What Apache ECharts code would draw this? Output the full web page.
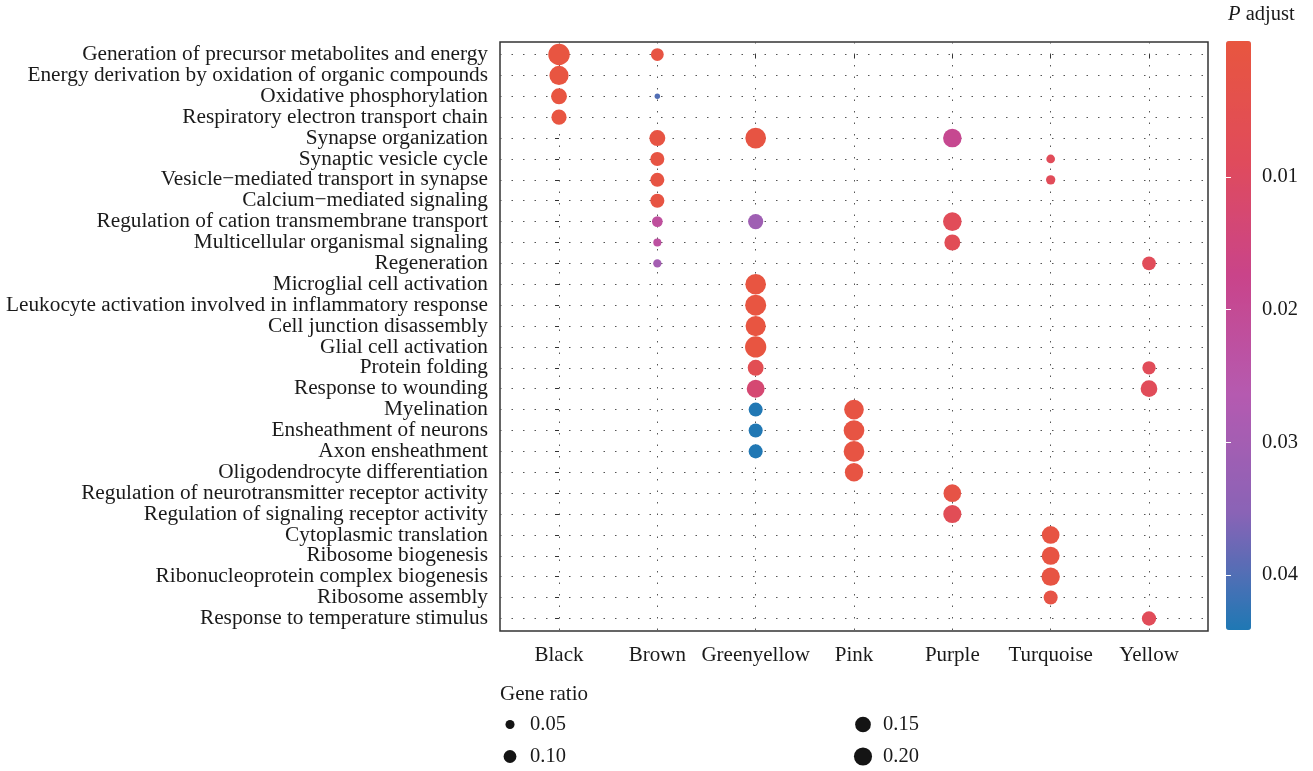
<!DOCTYPE html>
<html>
<head>
<meta charset="utf-8">
<script src="https://cdn.jsdelivr.net/npm/echarts@6/dist/echarts.min.js"></script>
<style>
  html, body { margin: 0; padding: 0; background: #fff; }
  #box { width: 1313px; height: 771px; }
</style>
</head>
<body>
<div id="box"></div>
<script>
const modules = ["Black", "Brown", "Greenyellow", "Pink", "Purple", "Turquoise", "Yellow"];
const terms = [
  "Generation of precursor metabolites and energy",
  "Energy derivation by oxidation of organic compounds",
  "Oxidative phosphorylation",
  "Respiratory electron transport chain",
  "Synapse organization",
  "Synaptic vesicle cycle",
  "Vesicle\u2212mediated transport in synapse",
  "Calcium\u2212mediated signaling",
  "Regulation of cation transmembrane transport",
  "Multicellular organismal signaling",
  "Regeneration",
  "Microglial cell activation",
  "Leukocyte activation involved in inflammatory response",
  "Cell junction disassembly",
  "Glial cell activation",
  "Protein folding",
  "Response to wounding",
  "Myelination",
  "Ensheathment of neurons",
  "Axon ensheathment",
  "Oligodendrocyte differentiation",
  "Regulation of neurotransmitter receptor activity",
  "Regulation of signaling receptor activity",
  "Cytoplasmic translation",
  "Ribosome biogenesis",
  "Ribonucleoprotein complex biogenesis",
  "Ribosome assembly",
  "Response to temperature stimulus"
];

// one entry per dot: module index, term index, gene ratio, adjusted p
const dotModule = [0, 0, 0, 0,
  1, 1, 1, 1, 1, 1, 1, 1, 1,
  2, 2, 2, 2, 2, 2, 2, 2, 2, 2, 2,
  3, 3, 3, 3,
  4, 4, 4, 4, 4,
  5, 5, 5, 5, 5, 5,
  6, 6, 6, 6];
const dotTerm = [0, 1, 2, 3,
  0, 2, 4, 5, 6, 7, 8, 9, 10,
  4, 8, 11, 12, 13, 14, 15, 16, 17, 18, 19,
  17, 18, 19, 20,
  4, 8, 9, 21, 22,
  5, 6, 23, 24, 25, 26,
  10, 15, 16, 27];
const geneRatio = [0.28, 0.225, 0.155, 0.14,
  0.10, 0.018, 0.155, 0.12, 0.12, 0.12, 0.07, 0.04, 0.042,
  0.26, 0.14, 0.26, 0.27, 0.25, 0.275, 0.155, 0.195, 0.12, 0.12, 0.12,
  0.235, 0.26, 0.26, 0.205,
  0.21, 0.21, 0.155, 0.19, 0.20,
  0.046, 0.053, 0.19, 0.195, 0.205, 0.12,
  0.115, 0.108, 0.17, 0.125];
const pAdjust = [0.0003, 0.0003, 0.0003, 0.0003,
  0.001, 0.040, 0.001, 0.001, 0.001, 0.001, 0.022, 0.023, 0.030,
  0.001, 0.031, 0.0003, 0.0003, 0.0003, 0.0003, 0.006, 0.013, 0.044, 0.044, 0.044,
  0.001, 0.001, 0.001, 0.001,
  0.019, 0.008, 0.007, 0.002, 0.007,
  0.008, 0.008, 0.001, 0.001, 0.001, 0.002,
  0.008, 0.008, 0.008, 0.008];

const pTicks = [0.01, 0.02, 0.03, 0.04];
const pRange = [-0.00025, 0.04415];
const ratioBreaks = ["0.05", "0.10", "0.15", "0.20"];

const font = "Liberation Serif";
const ink = "#1a1a1a";
const dotSize = r => 40.5 * Math.sqrt(r);
const idx = (n) => Array.from({ length: n }, (_, i) => i);

let chart = echarts.init(document.getElementById("box"));

let dots = dotModule.map((m, i) => [m, dotTerm[i], geneRatio[i], pAdjust[i]]);

// size legend: one legend per break so every key gets its own circle size
let legendPos = [[510, 724], [510, 756], [863, 724], [863, 756]];
let legends = ratioBreaks.map((b, i) => {
  let d = dotSize(+b);
  return {
    data: [b],
    icon: "circle",
    itemWidth: d,
    itemHeight: d,
    left: legendPos[i][0] - d / 2,
    top: legendPos[i][1] - 10,
    padding: 0,
    selectedMode: false,
    textStyle: {
      fontFamily: font, fontSize: 20.5, color: ink,
      padding: [0, 0, 0, 20 - d / 2 - 5]
    }
  };
});

let option = {
  animation: false,
  backgroundColor: "#fff",
  title: [
    {
      text: "{i|P} adjust",
      left: 1228, top: 4, padding: 0,
      textStyle: {
        fontFamily: font, fontSize: 20.5, fontWeight: "normal", color: ink,
        rich: { i: { fontFamily: font, fontSize: 20.5, fontStyle: "italic", color: ink } }
      }
    },
    {
      text: "Gene ratio",
      left: 500, top: 684, padding: 0,
      textStyle: { fontFamily: font, fontSize: 21, fontWeight: "normal", color: ink }
    }
  ],
  legend: legends,
  grid: [
    {
      left: 500, top: 42, width: 708, height: 589,
      outerBoundsMode: "none", containLabel: false,
      show: true, borderColor: "#333", borderWidth: 1.5, backgroundColor: "transparent"
    },
    { left: 1226, top: 41, width: 25, height: 589, outerBoundsMode: "none", containLabel: false }
  ],
  visualMap: {
    type: "continuous",
    seriesIndex: 0,
    dimension: 3,
    min: pRange[0],
    max: pRange[1],
    inverse: true,
    calculable: false,
    hoverLink: false,
    left: 1226,
    top: 41,
    itemWidth: 25,
    itemHeight: 589,
    padding: 0,
    inRange: {
      color: ["#E8563F", "#E04B5B", "#C9448A", "#B55AB0", "#8A63B6", "#1F78B4"]
    }
  },
  xAxis: [
    {
      type: "value", gridIndex: 0, min: -0.6, max: 6.6,
      axisLine: { show: false },
      axisTick: { show: true, length: 4, customValues: idx(modules.length), lineStyle: { color: "#333", width: 1 } },
      axisLabel: {
        customValues: idx(modules.length),
        formatter: v => modules[Math.round(v)],
        showMinLabel: true, showMaxLabel: true, hideOverlap: false,
        margin: 14, fontFamily: font, fontSize: 21, color: ink
      },
      splitLine: { show: true, lineStyle: { type: [1.5, 10], color: "#555", width: 1 } }
    },
    { type: "value", gridIndex: 1, show: false, min: 0, max: 1 }
  ],
  yAxis: [
    {
      type: "value", gridIndex: 0, min: -0.6, max: 27.6, inverse: true,
      axisLine: { show: false },
      axisTick: { show: true, length: 4, customValues: idx(terms.length), lineStyle: { color: "#333", width: 1 } },
      axisLabel: {
        customValues: idx(terms.length),
        formatter: v => terms[Math.round(v)],
        showMinLabel: true, showMaxLabel: true, hideOverlap: false,
        margin: 12, fontFamily: font, fontSize: 21.3, color: ink
      },
      splitLine: { show: true, lineStyle: { type: [1.5, 10], color: "#555", width: 1 } }
    },
    {
      type: "value", gridIndex: 1, min: pRange[0], max: pRange[1], inverse: true, position: "right", z: 10,
      axisLine: { show: false }, splitLine: { show: false },
      axisTick: { show: true, inside: true, length: 5, customValues: pTicks, lineStyle: { color: "#fff", width: 1 } },
      axisLabel: {
        customValues: pTicks, formatter: v => v.toFixed(2),
        margin: 11, fontFamily: font, fontSize: 20.5, color: ink
      }
    },
    {
      type: "value", gridIndex: 1, min: pRange[0], max: pRange[1], inverse: true, position: "left", z: 10,
      axisLine: { show: false }, splitLine: { show: false }, axisLabel: { show: false },
      axisTick: { show: true, inside: true, length: 5, customValues: pTicks, lineStyle: { color: "#fff", width: 1 } }
    }
  ],
  series: [
    {
      type: "scatter",
      name: "dots",
      data: dots,
      symbol: "circle",
      symbolSize: v => dotSize(v[2]),
      itemStyle: { opacity: 1 },
      z: 5
    }
  ].concat(ratioBreaks.map(b => ({
    type: "scatter", name: b, data: [], itemStyle: { color: "#141414", opacity: 1 }
  })))
};

chart.setOption(option);
</script>
</body>
</html>
